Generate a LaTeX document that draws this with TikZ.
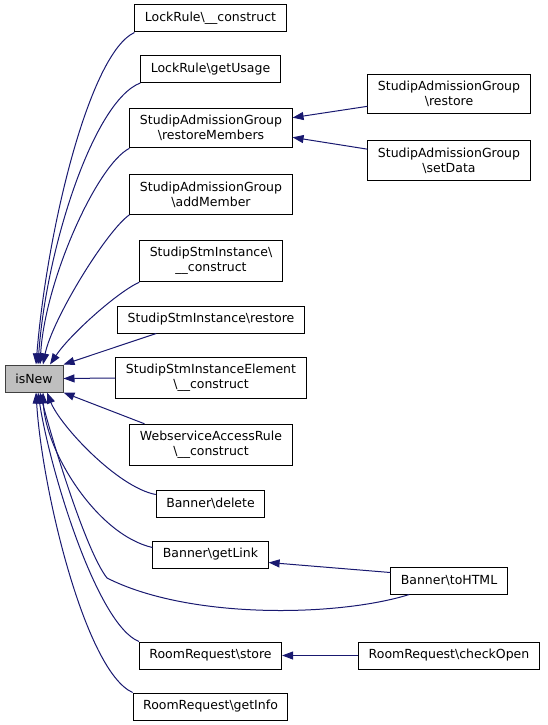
\documentclass[tikz,border=0pt]{standalone}
\usepackage{fontspec}
\setmainfont{DejaVu Sans}
\usetikzlibrary{arrows.meta}

\definecolor{edgeblue}{HTML}{191970}
\definecolor{nodegray}{HTML}{BFBFBF}

\begin{document}
\begin{tikzpicture}[
    x=1pt, y=1pt,
    box/.style={draw=black, line width=1pt, fill=white, minimum height=27pt,
                inner xsep=10pt, inner ysep=7pt, align=center,
                font=\fontsize{12.5}{15}\selectfont},
    mainbox/.style={box, fill=nodegray, draw=black!75, minimum width=58pt},
    callarr/.style={draw=edgeblue, line width=1pt, -{Triangle[length=11pt,width=8pt]}},
]
\useasboundingbox (0,0) rectangle (547,-725);

% Callee
\node[mainbox] (isnew) at (34,-378.5) {isNew};

% Direct callers
\node[box] (lockcons) at (210.5,-18.5) {LockRule\textbackslash\_\_construct};
\node[box] (lockusage) at (210.5,-69) {LockRule\textbackslash getUsage};
\node[box] (restoremembers) at (211,-128) {StudipAdmissionGroup\\\textbackslash restoreMembers};
\node[box] (addmember) at (211,-194.5) {StudipAdmissionGroup\\\textbackslash addMember};
\node[box] (stmcons) at (211,-261) {StudipStmInstance\textbackslash\\\_\_construct};
\node[box] (stmrestore) at (211,-319.5) {StudipStmInstance\textbackslash restore};
\node[box] (elemcons) at (211,-378) {StudipStmInstanceElement\\\textbackslash\_\_construct};
\node[box] (wsrule) at (211,-445) {WebserviceAccessRule\\\textbackslash\_\_construct};
\node[box] (bdelete) at (210.5,-503.5) {Banner\textbackslash delete};
\node[box] (bgetlink) at (210.5,-554.5) {Banner\textbackslash getLink};
\node[box] (rrstore) at (210.5,-655.5) {RoomRequest\textbackslash store};
\node[box] (rrinfo) at (210.5,-706.5) {RoomRequest\textbackslash getInfo};

% Second level callers
\node[box] (sarestore) at (449,-94) {StudipAdmissionGroup\\\textbackslash restore};
\node[box] (sasetdata) at (449,-160.5) {StudipAdmissionGroup\\\textbackslash setData};
\node[box] (btohtml) at (449,-580.5) {Banner\textbackslash toHTML};
\node[box] (rrcheck) at (449,-655.5) {RoomRequest\textbackslash checkOpen};

% Calls into isNew, upper half
\draw[callarr] (lockcons.south west) .. controls +(-45,-21) and +(11,135) .. ([xshift=2pt]isnew.north);
\draw[callarr] (lockusage.south west) .. controls +(-47,-18) and +(8,115) .. ([xshift=4pt]isnew.north);
\draw[callarr] (restoremembers.south west) .. controls +(-32,-16) and +(5,85) .. ([xshift=6pt]isnew.north);
\draw[callarr] (addmember.south west) .. controls +(-23,-16) and +(9,45) .. ([xshift=9pt]isnew.north);
\draw[callarr] (stmcons.south west) .. controls +(-22,-10) and +(20,30) .. ([xshift=16pt]isnew.north);
\draw[callarr] ([xshift=39pt]stmrestore.south west) -- (isnew.north east);
\draw[callarr] (elemcons.west) -- (isnew.east);
\draw[callarr] ([xshift=15pt]wsrule.north west) -- (isnew.south east);

% Calls into isNew, lower half
\draw[callarr] ([yshift=-5pt]bdelete.north west) .. controls +(-38,7) and +(13,-33) .. ([xshift=13pt]isnew.south);
\draw[callarr] ([yshift=-7pt]bgetlink.north west) .. controls +(-56,13) and +(2,-58) .. ([xshift=9pt]isnew.south);
\coordinate (htmlbend) at (107,-578);
\draw[callarr] ([xshift=19pt]btohtml.south west) .. controls +(-70,-22) and +(83,-42) .. (htmlbend)
    .. controls +(-22,28) and +(10,-40) .. ([xshift=6pt]isnew.south);
\draw[callarr] (rrstore.north west) .. controls +(-42,17) and +(12,-78) .. ([xshift=4pt]isnew.south);
\draw[callarr] (rrinfo.north west) .. controls +(-47,21) and +(6,-98) .. ([xshift=2pt]isnew.south);

% Second level calls
\draw[callarr] ([yshift=8pt]sarestore.south west) -- ([yshift=-10pt]restoremembers.north east);
\draw[callarr] ([yshift=-9pt]sasetdata.north west) -- ([yshift=11pt]restoremembers.south east);
\draw[callarr] ([yshift=-6pt]btohtml.north west) -- ([yshift=6pt]bgetlink.south east);
\draw[callarr] (rrcheck.west) -- (rrstore.east);
\end{tikzpicture}
\end{document}
